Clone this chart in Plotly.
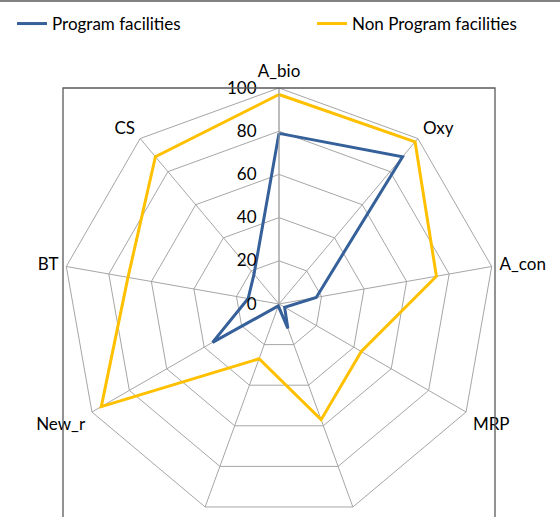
import plotly.graph_objects as go

categories = ["A_bio", "Oxy", "A_con", "MRP", "BRP", "AVD", "New_r", "BT", "CS"]
program = [79, 89, 17.5, 3, 12, 1, 35.5, 14.5, 18]
non_program = [97, 98, 74, 44, 57, 27, 95, 71, 89]
radial_ticks = [0, 20, 40, 60, 80, 100]

W, H = 560, 560
FONT = "Lato"

fig = go.Figure()
fig.add_trace(go.Scatterpolar(
    r=program + program[:1], theta=categories + categories[:1],
    mode="lines", name="Program facilities", legend="legend",
    line=dict(color="#35609A", width=3)))
fig.add_trace(go.Scatterpolar(
    r=non_program + non_program[:1], theta=categories + categories[:1],
    mode="lines", name="Non Program facilities", legend="legend2",
    line=dict(color="#FFC000", width=3)))

x0, x1 = 63 / W, 495 / W
ytop = 1 - 88 / H
ybot = ytop - (x1 - x0) * W / H

leg_common = dict(orientation="h", xanchor="left", y=1 - 24 / H, yanchor="middle",
                  font=dict(family=FONT, size=17, color="black"), bgcolor="rgba(0,0,0,0)")

fig.update_layout(
    width=W, height=H,
    margin=dict(l=0, r=0, t=0, b=0),
    paper_bgcolor="white",
    font=dict(family=FONT, size=17, color="black"),
    showlegend=True,
    legend=dict(x=12 / W, **leg_common),
    legend2=dict(x=312 / W, **leg_common),
    polar=dict(
        domain=dict(x=[x0, x1], y=[ybot, ytop]),
        bgcolor="white",
        gridshape="linear",
        angularaxis=dict(rotation=90, direction="clockwise",
                         categoryorder="array", categoryarray=categories,
                         showline=True, linecolor="#A6A6A6", linewidth=1,
                         showgrid=True, gridcolor="#A6A6A6", gridwidth=1,
                         ticks="outside", ticklen=4, tickcolor="rgba(0,0,0,0)",
                         tickfont=dict(family=FONT, size=17, color="black")),
        radialaxis=dict(range=[0, 100], tickvals=radial_ticks, angle=90, tickangle=90,
                        side="counterclockwise",
                        showline=True, linecolor="#A6A6A6", linewidth=1,
                        showgrid=True, gridcolor="#A6A6A6", gridwidth=1,
                        ticks="outside", ticklen=16, tickcolor="rgba(0,0,0,0)",
                        tickfont=dict(family=FONT, size=17, color="black")),
    ),
    shapes=[
        dict(type="rect", xref="paper", yref="paper", x0=x0, x1=x1, y0=-0.05, y1=ytop,
             line=dict(color="#595959", width=1.3), fillcolor="rgba(0,0,0,0)", layer="above"),
        dict(type="line", xref="paper", yref="paper", x0=0, x1=1, y0=1 - 1 / H, y1=1 - 1 / H,
             line=dict(color="#595959", width=1.5)),
    ],
)

fig.write_html("out.html", config={"displayModeBar": False},
               post_script="document.body.style.margin='0';"
                           "document.documentElement.style.overflow='hidden';"
                           "document.body.style.overflow='hidden';")
